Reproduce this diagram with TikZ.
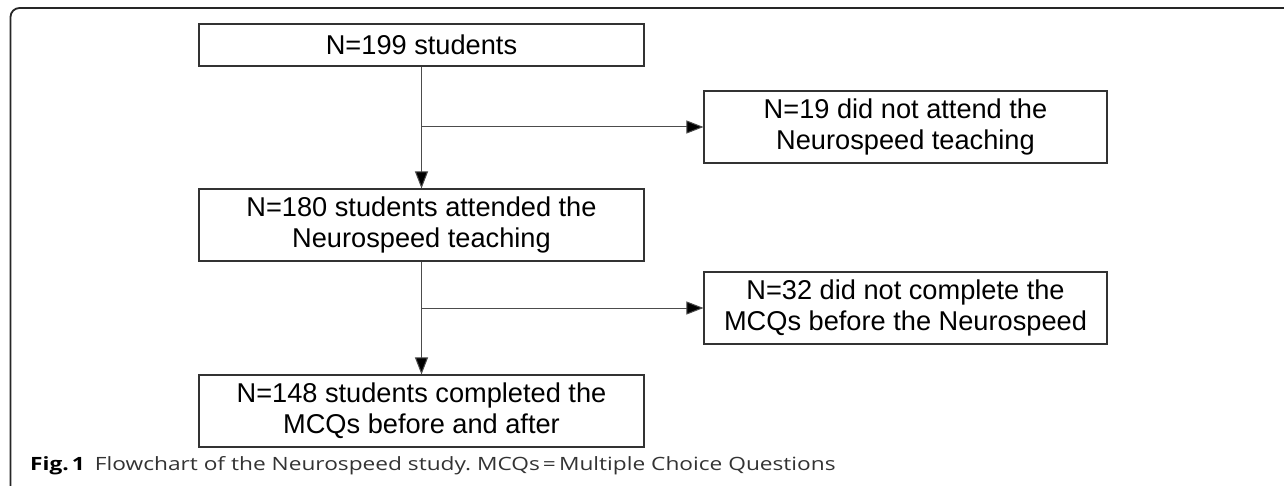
\documentclass[tikz,border=0pt]{standalone}
\usepackage{fontspec}
\setmainfont{Liberation Sans}
\newfontfamily\capfont[FakeStretch=1.24]{Open Sans}
\usetikzlibrary{arrows.meta}

\begin{document}
\begin{tikzpicture}[x=1pt, y=-1pt,
    stepbox/.style={draw=black!80, line width=1.1pt, align=center, inner sep=0pt,
      font=\fontsize{27.2}{30.7}\selectfont},
    mainbox/.style={stepbox, minimum width=445pt, minimum height=72pt},
    sidebox/.style={stepbox, minimum width=403pt, minimum height=72pt},
    flow/.style={draw=black!70, line width=1pt, -{Triangle[length=17pt, width=13pt, fill=black]}}]

    % page size and the open outer frame
    \useasboundingbox (0,0) rectangle (1284,486);
    \draw[line width=1.8pt, black!85, rounded corners=9pt]
      (10.5,495) -- (10.5,8) -- (1295,8);

    % --- main column ---
    \node[mainbox, minimum height=42pt] (all) at (421.5,45) {N=199 students};
    \node[mainbox] (attended) at (421.5,225) {N=180 students attended the\\Neurospeed teaching};
    \node[mainbox] (completed) at (421.5,411) {N=148 students completed the\\MCQs before and after};

    % --- exclusions on the right ---
    \node[sidebox] (absent) at (905.5,127) {N=19 did not attend the\\Neurospeed teaching};
    \node[sidebox] (nopre) at (905.5,308) {N=32 did not complete the\\MCQs before the Neurospeed};

    % down the column
    \draw[flow] (all) -- (attended);
    \draw[flow] (attended) -- (completed);

    % branches to the right
    \draw[flow] (all |- absent) -- (absent);
    \draw[flow] (attended |- nopre) -- (nopre);

    % caption
    \node[anchor=base west, inner sep=0pt, text=black!80,
      font=\capfont\fontsize{18.3}{21}\selectfont\frenchspacing] (caption) at (30,470)
      {\textcolor{black}{\bfseries Fig.\,1}\hspace{0.55em}Flowchart of the Neurospeed study. MCQs\,=\,Multiple Choice Questions};

\end{tikzpicture}
\end{document}
